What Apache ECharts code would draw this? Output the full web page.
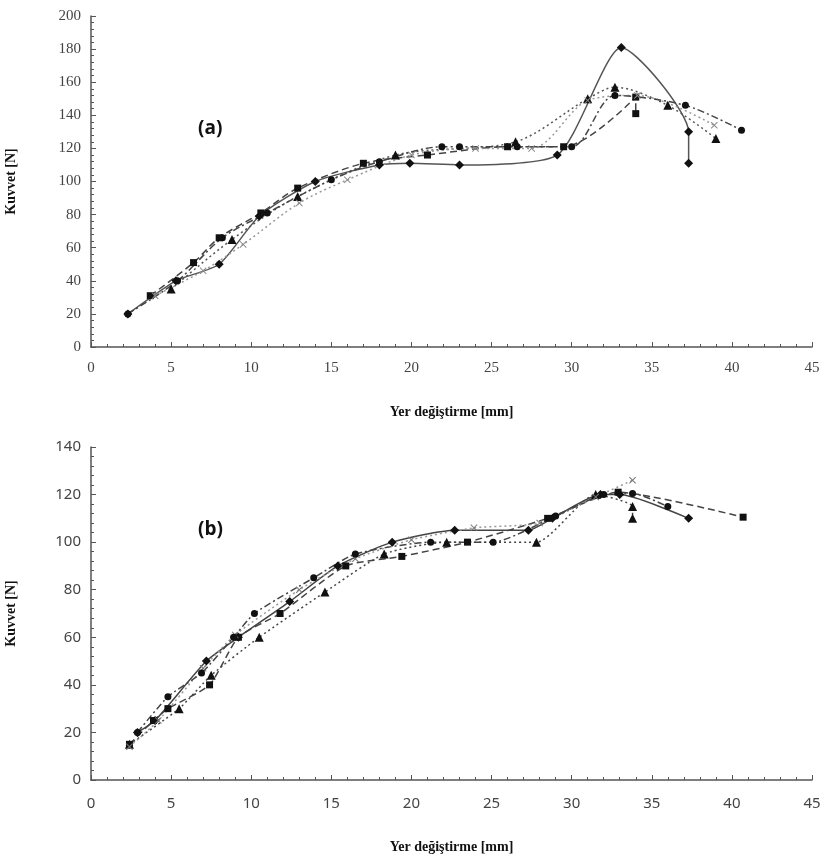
<!DOCTYPE html>
<html>
<head>
<meta charset="utf-8">
<script src="https://cdn.jsdelivr.net/npm/echarts@6/dist/echarts.min.js"></script>
<style>html,body{margin:0;padding:0;background:#fff}#c{width:825px;height:861px}</style>
</head>
<body>
<div id="c"></div>
<script>
// ---- Data (a) ----
var diamondA = [[2.3,20],[5.3,40],[8,50],[10.5,79],[14,100],[18,110],[19.9,111],[23,110],[29.1,116],[33.1,181],[37.3,130],[37.3,111]];
var squareA  = [[3.7,31],[6.4,51],[8,66],[10.6,81],[12.9,96],[17,111],[21,116],[26,121],[29.5,121],[34,151],[34,141]];
var triA     = [[5,35],[8.8,65],[12.9,91],[19,116],[26.5,124],[31,150],[32.7,157],[36,146],[39,126]];
var crossA   = [[4,31],[7,46],[9.5,62],[13,87],[16,101],[20,116],[24,120],[27.5,120],[31,149],[34.1,152],[38.9,134]];
var circleA  = [[2.3,20],[5.4,40],[8.2,66],[11,81],[15,101],[18,112],[21.9,121],[23,121],[26.6,121],[30,121],[32.7,152],[37.1,146],[40.6,131]];
// ---- Data (b) ----
var diamondB = [[2.9,20],[4,25],[7.2,50],[9.2,60],[12.4,75],[15.4,90],[18.8,100],[22.7,105],[27.3,105],[28.8,110],[31.8,120],[33,120],[37.3,110]];
var squareB  = [[2.4,15],[3.9,25],[4.8,30],[7.4,40],[9.2,60],[11.8,70],[15.9,90],[19.4,94],[23.5,100],[28.5,110],[32.9,121],[40.7,110.5]];
var triB     = [[2.4,15],[5.5,30],[7.5,44],[10.5,60],[14.6,79],[18.3,95],[22.2,100],[27.8,100],[31.5,120],[33.8,115],[33.8,110]];
var crossB   = [[2.4,14],[4.2,25],[7,47],[9,61],[13,80],[16.5,93],[20,101],[23.9,106],[28,108],[31.5,119],[33.8,126]];
var circleB  = [[2.9,20],[4.8,35],[6.9,45],[8.9,60],[10.2,70],[13.9,85],[16.5,95],[21.2,100],[25.1,100],[29,111],[32,120],[33.8,120.5],[36,115]];

var xTitle = 'Yer değiştirme [mm]';
var yTitle = 'Kuvvet [N]';
var panelLabels = ['(a)', '(b)'];

var crossPath = 'path://M0,1L1,0L5,4L9,0L10,1L6,5L10,9L9,10L5,6L1,10L0,9L4,5Z';
var axisCol = '#555';

function mkX(gi, font, gap, margin){
  return {
    type:'value', gridIndex:gi, min:0, max:45, interval:5,
    name:xTitle, nameLocation:'middle', nameGap:gap,
    nameTextStyle:{fontFamily:'Liberation Serif', fontWeight:'bold', fontSize:14, color:'#111'},
    axisLine:{show:true, onZero:false, lineStyle:{color:axisCol, width:1.5}},
    axisTick:{show:true, inside:true, length:5, lineStyle:{color:axisCol}},
    minorTick:{show:true, splitNumber:5, length:3, lineStyle:{color:axisCol}},
    axisLabel:{fontFamily:font, fontSize:15, color:'#444', margin:margin},
    splitLine:{show:false}
  };
}
function mkY(gi, max, font, gap){
  return {
    type:'value', gridIndex:gi, min:0, max:max, interval:20,
    name:yTitle, nameLocation:'middle', nameGap:gap,
    nameTextStyle:{fontFamily:'Liberation Serif', fontWeight:'bold', fontSize:14, color:'#111'},
    axisLine:{show:true, lineStyle:{color:axisCol, width:1.5}},
    axisTick:{show:true, inside:true, length:5, lineStyle:{color:axisCol}},
    minorTick:{show:true, splitNumber:5, length:3, lineStyle:{color:axisCol}},
    axisLabel:{fontFamily:font, fontSize:15, color:'#444', margin:10},
    splitLine:{show:false}
  };
}
function ser(gi, data, sym, size, type, col, symCol, smooth, w){
  return {
    type:'line', xAxisIndex:gi, yAxisIndex:gi, data:data,
    symbol:sym, symbolSize:size, smooth:smooth,
    lineStyle:{color:col, width:w||1.5, type:type},
    itemStyle:{color:symCol, borderWidth:0},
    animation:false, z: 2
  };
}
var dashT = [7,4], dotT = [2,3], dashDotT = [7,3,2,3];

var option = {
  backgroundColor:'#fff',
  animation:false,
  title:[
    {text:panelLabels[0], left:193, top:114, textStyle:{fontFamily:'Open Sans', fontWeight:'bold', fontSize:19, color:'#111'}},
    {text:panelLabels[1], left:193, top:515, textStyle:{fontFamily:'Open Sans', fontWeight:'bold', fontSize:19, color:'#111'}}
  ],
  grid:[
    {left:91, top:16, width:721, height:331, containLabel:false, outerBoundsMode:'none'},
    {left:91, top:447, width:721, height:333, containLabel:false, outerBoundsMode:'none'}
  ],
  xAxis:[mkX(0,'Liberation Serif',58,14), mkX(1,'Noto Sans',60,16)],
  yAxis:[mkY(0,200,'Liberation Serif',73), mkY(1,140,'Noto Sans',73)],
  series:[
    ser(0, diamondA, 'diamond', 9, 'solid', '#555', '#111', 0.22),
    ser(0, squareA, 'rect', 7, dashT, '#444', '#111', 0.3),
    ser(0, triA, 'triangle', 9, dotT, '#555', '#111', 0.3),
    ser(0, crossA, crossPath, 7, dotT, '#999', '#888', 0.3),
    ser(0, circleA, 'circle', 7, dashDotT, '#444', '#111', 0.3),
    ser(1, diamondB, 'diamond', 9, 'solid', '#444', '#111', 0.2),
    ser(1, squareB, 'rect', 7, dashT, '#444', '#111', 0.2),
    ser(1, triB, 'triangle', 9, dotT, '#444', '#111', 0.2),
    ser(1, crossB, crossPath, 7, dotT, '#999', '#777', 0.2),
    ser(1, circleB, 'circle', 7, dashDotT, '#444', '#111', 0.2)
  ]
};
var chart = echarts.init(document.getElementById('c'), null, {renderer:'canvas'});
chart.setOption(option);
</script>
</body>
</html>
